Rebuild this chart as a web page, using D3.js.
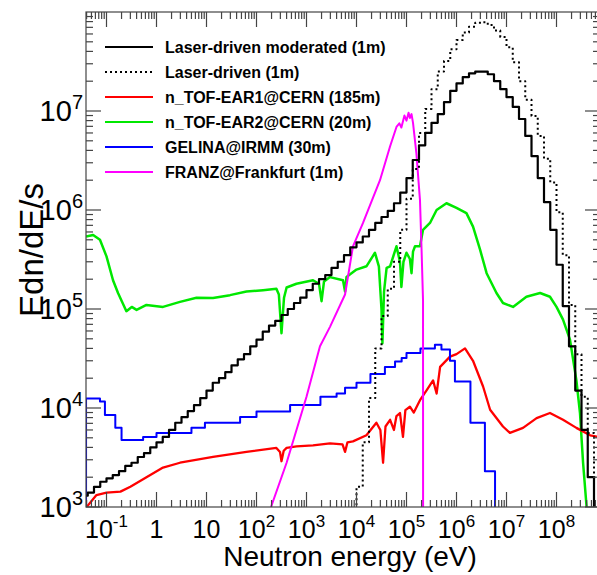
<!DOCTYPE html>
<html>
<head>
<meta charset="utf-8">
<script src="https://cdn.jsdelivr.net/npm/d3@7"></script>
<style>
  body { margin: 0; background: #fff; }
  svg { display: block; font-family: "Liberation Sans", Arial, Helvetica, sans-serif; }
</style>
</head>
<body>
<div id="chart"></div>
<script>
// Legend entries
const seriesNames = [
    "Laser-driven moderated (1m)",
    "Laser-driven (1m)",
    "n_TOF-EAR1@CERN (185m)",
    "n_TOF-EAR2@CERN (20m)",
    "GELINA@IRMM (30m)",
    "FRANZ@Frankfurt (1m)"
];

// Tick decades
const xTickExps = [-1, 0, 1, 2, 3, 4, 5, 6, 7, 8];
const yTickExps = [3, 4, 5, 6, 7];

// Laser-driven histograms: 8 bins per decade, first bin low edge as 10^exp (eV)
const binWidthDecades = 0.125;
const moderatedFirstExp = -1.5;
const moderatedValues = [
    1.3e3, 1.4e3, 1.6e3, 1.8e3, 1.95e3, 2.1e3, 2.3e3, 2.6e3, 2.8e3, 3.2e3,
    3.5e3, 4.0e3, 4.5e3, 5.1e3, 6.0e3, 7.1e3, 8.1e3, 9.3e3, 1.07e4, 1.26e4,
    1.5e4, 1.8e4, 2.0e4, 2.3e4, 2.7e4, 3.1e4, 3.5e4, 4.2e4, 4.9e4, 5.9e4,
    6.8e4, 7.6e4, 8.7e4, 1.0e5, 1.15e5, 1.3e5, 1.55e5, 1.8e5, 2.0e5, 2.2e5,
    2.6e5, 3.0e5, 3.5e5, 4.2e5, 4.7e5, 5.4e5, 6.3e5, 7.4e5, 8.5e5, 9.8e5,
    1.17e6, 1.5e6, 2.1e6, 3.2e6, 4.5e6, 6.0e6, 7.6e6, 9.3e6, 1.23e7, 1.6e7,
    1.9e7, 2.2e7, 2.4e7, 2.5e7, 2.5e7, 2.35e7, 2.0e7, 1.66e7, 1.38e7, 1.1e7,
    8.3e6, 5.6e6, 3.5e6, 2.1e6, 1.2e6, 6.3e5, 2.8e5, 1.07e5, 4.2e4, 1.5e4,
    6.0e3, 2.0e3, 3.2e2
];
const unmoderatedFirstExp = 3.875;
const unmoderatedValues = [
    3.2e2, 1.6e3, 4.5e3, 1.26e4, 4.0e4, 8.5e4, 1.6e5, 3.0e5, 6.3e5, 1.3e6,
    2.6e6, 6.0e6, 1.05e7, 1.66e7, 2.5e7, 3.2e7, 4.2e7, 5.2e7, 6.2e7, 7.1e7,
    7.8e7, 7.9e7, 7.4e7, 6.5e7, 5.6e7, 4.4e7, 3.1e7, 2.0e7, 1.3e7, 8.9e6,
    5.6e6, 3.3e6, 1.9e6, 9.5e5, 3.5e5, 1.1e5, 3.5e4, 1.3e4, 5.6e3, 2.0e3,
    7e2
];

// n_TOF-EAR1 (energy eV, flux)
const ear1Energy = [
    0.04, 0.063, 0.1, 0.19, 0.3, 0.63, 1.35, 2.95, 13.5, 63,
    250, 295, 316, 350, 400, 630, 1350, 2950, 5250, 5900,
    6600, 8500, 1.58e4, 2.5e4, 3.0e4, 3.4e4, 3.8e4, 4.7e4, 5.6e4, 6.3e4,
    7.4e4, 8.5e4, 9.5e4, 1.17e5, 1.4e5, 1.86e5, 2.5e5, 3.4e5, 4e5, 4.7e5,
    7.4e5, 1e6, 1.48e6, 2.14e6, 3.4e6, 4.7e6, 8.5e6, 1.17e7, 2.14e7, 4e7,
    7.4e7, 1.35e8, 2.5e8, 4.7e8, 7e8
];
const ear1Flux = [
    1.0e3, 1.32e3, 1.4e3, 1.43e3, 1.6e3, 2.0e3, 2.5e3, 2.8e3, 3.2e3, 3.6e3,
    3.95e3, 3.6e3, 2.9e3, 3.7e3, 3.95e3, 4.1e3, 4.2e3, 4.4e3, 4.3e3, 3.6e3,
    4.5e3, 4.6e3, 5.3e3, 7.1e3, 6.0e3, 2.8e3, 6.5e3, 7.6e3, 6.0e3, 8.3e3,
    8.9e3, 5.1e3, 9.5e3, 1.03e4, 9.0e3, 1.2e4, 1.5e4, 1.9e4, 1.4e4, 2.6e4,
    3.3e4, 3.5e4, 4.0e4, 3.0e4, 1.65e4, 9.6e3, 6.5e3, 5.6e3, 6.3e3, 7.9e3,
    8.9e3, 7.6e3, 6.3e3, 5.3e3, 5.1e3
];

// n_TOF-EAR2 (energy eV, flux)
const ear2Energy = [
    0.039, 0.054, 0.074, 0.1, 0.135, 0.17, 0.21, 0.25, 0.32, 0.4,
    0.63, 1.35, 2.95, 6.3, 13.5, 29.5, 63, 135, 250, 280,
    316, 355, 400, 630, 1350, 1780, 2000, 2240, 2950, 5370,
    5900, 6300, 1e4, 1.58e4, 2.34e4, 2.8e4, 3.16e4, 3.3e4, 3.55e4, 4e4,
    4.7e4, 6.3e4, 7.4e4, 7.9e4, 8.7e4, 1e5, 1.17e5, 1.26e5, 1.35e5, 1.48e5,
    1.86e5, 2.14e5, 2.95e5, 4e5, 6.3e5, 1e6, 1.58e6, 2.14e6, 2.95e6, 4e6,
    6.3e6, 8.5e6, 1.35e7, 2.5e7, 4.7e7, 7.4e7, 1e8, 1.35e8, 1.86e8, 2.5e8,
    2.95e8, 3.4e8, 4e8, 4.2e8
];
const ear2Flux = [
    5.4e5, 5.6e5, 5.0e5, 3.4e5, 1.95e5, 1.45e5, 1.15e5, 9.5e4, 1.05e5, 9.8e4,
    1.1e5, 1.05e5, 1.18e5, 1.3e5, 1.29e5, 1.38e5, 1.5e5, 1.55e5, 1.6e5, 1.4e5,
    5.7e4, 1.3e5, 1.65e5, 1.8e5, 1.95e5, 1.8e5, 1.2e5, 1.9e5, 2.1e5, 1.95e5,
    1.5e5, 2.1e5, 2.5e5, 2.7e5, 3.7e5, 2.7e5, 1.0e5, 4.5e4, 1.5e5, 2.6e5,
    2.7e5, 4.3e5, 3.0e5, 1.67e5, 3.0e5, 3.7e5, 3.2e5, 2.3e5, 3.8e5, 4.3e5,
    4.3e5, 6.3e5, 7.4e5, 1.0e6, 1.17e6, 1.05e6, 9.3e5, 6.8e5, 4.0e5, 2.3e5,
    1.45e5, 1.15e5, 1.05e5, 1.33e5, 1.45e5, 1.33e5, 1.05e5, 7.8e4, 4.9e4, 1.9e4,
    8.9e3, 2.8e3, 1.0e3, 5e2
];

// GELINA histogram: bin edges (eV) and bin contents
const gelinaEdges = [
    0.039, 0.074, 0.093, 0.15, 0.2, 0.54, 1, 5, 9.3, 47,
    100, 470, 1900, 4000, 5900, 1e4, 1.9e4, 3.7e4, 5.9e4, 8e4,
    1e5, 1.9e5, 3.7e5, 5e5, 7.4e5, 9.3e5, 1.9e6, 3.7e6, 5.9e6, 8e6
];
const gelinaValues = [
    1.25e4, 1.16e4, 8.5e3, 6.3e3, 4.75e3, 5.1e3, 5.6e3, 6.3e3, 7.1e3, 8.1e3,
    9.2e3, 1.07e4, 1.3e4, 1.4e4, 1.6e4, 1.8e4, 2.2e4, 2.6e4, 2.95e4, 3.2e4,
    3.6e4, 4.0e4, 4.35e4, 3.9e4, 3.0e4, 1.85e4, 7.1e3, 2.3e3, 1e2
];

// FRANZ (energy eV, flux)
const franzEnergy = [
    195, 400, 1000, 1860, 2950, 5900, 8500, 1.35e4, 2.95e4, 4.7e4,
    6.3e4, 7.2e4, 7.9e4, 9.1e4, 1e5, 1.1e5, 1.17e5, 1.26e5, 1.35e5, 1.58e5,
    1.86e5, 2.0e5, 2.14e5, 2.15e5
];
const franzFlux = [
    1.0e3, 2.8e3, 1.3e4, 4.2e4, 6.6e4, 1.4e5, 4.3e5, 7.4e5, 2.0e6, 4.4e6,
    6.9e6, 7.5e6, 6.8e6, 9.0e6, 8.0e6, 9.6e6, 8.5e6, 9.3e6, 7.6e6, 3.7e6,
    1.26e6, 4.0e5, 1.23e5, 1e2
];

const colors = ["#000000", "#000000", "#ff0000", "#00e800", "#0000ff", "#ff00ff"];
const dashes = [null, "2,3", null, null, null, null];

const W = 597, H = 575;
const plot = { left: 86, right: 600, top: 12, bottom: 507 };

const x = d3.scaleLog()
    .domain([Math.pow(10, -1.41), Math.pow(10, 8.87)])
    .range([plot.left, plot.right]);
const y = d3.scaleLog()
    .domain([1e3, 1e8])
    .range([plot.bottom, plot.top]);

const svg = d3.select("#chart").append("svg")
    .attr("width", W)
    .attr("height", H);

svg.append("clipPath").attr("id", "clip")
    .append("rect")
    .attr("x", plot.left).attr("y", plot.top)
    .attr("width", plot.right - plot.left)
    .attr("height", plot.bottom - plot.top);

// Build histogram points (step after)
function uniformHist(firstExp, values) {
    const pts = [[Math.pow(10, firstExp), 1]];
    values.forEach((v, i) => pts.push([Math.pow(10, firstExp + i * binWidthDecades), v]));
    const endE = Math.pow(10, firstExp + values.length * binWidthDecades);
    pts.push([endE, values[values.length - 1]]);
    return pts;
}
function edgeHist(edges, values) {
    const pts = [[edges[0], 1]];
    values.forEach((v, i) => pts.push([edges[i], v]));
    pts.push([edges[edges.length - 1], values[values.length - 1]]);
    return pts;
}

const stepLine = d3.line()
    .x(d => x(d[0]))
    .y(d => y(Math.max(d[1], 1)))
    .curve(d3.curveStepAfter);
const plainLine = d3.line()
    .x(d => x(d[0]))
    .y(d => y(Math.max(d[1], 1)));

const curves = svg.append("g").attr("clip-path", "url(#clip)")
    .attr("fill", "none")
    .attr("stroke-linejoin", "round");

curves.append("path")
    .attr("d", plainLine(ear2Energy.map((e, i) => [e, ear2Flux[i]])))
    .attr("stroke", colors[3]).attr("stroke-width", 2.5);
curves.append("path")
    .attr("d", plainLine(ear1Energy.map((e, i) => [e, ear1Flux[i]])))
    .attr("stroke", colors[2]).attr("stroke-width", 2.3);
curves.append("path")
    .attr("d", stepLine(edgeHist(gelinaEdges, gelinaValues)))
    .attr("stroke", colors[4]).attr("stroke-width", 2);
curves.append("path")
    .attr("d", plainLine(franzEnergy.map((e, i) => [e, franzFlux[i]])))
    .attr("stroke", colors[5]).attr("stroke-width", 2);
curves.append("path")
    .attr("d", stepLine(uniformHist(unmoderatedFirstExp, unmoderatedValues)))
    .attr("stroke", colors[1]).attr("stroke-width", 2)
    .attr("stroke-dasharray", dashes[1]);
curves.append("path")
    .attr("d", stepLine(uniformHist(moderatedFirstExp, moderatedValues)))
    .attr("stroke", colors[0]).attr("stroke-width", 2.2);

// Frame and ticks (ROOT style: ticks on all sides)
const axisColor = "#444";
const frame = svg.append("g").attr("stroke", axisColor).attr("stroke-width", 1.2);
frame.append("rect")
    .attr("x", plot.left).attr("y", plot.top)
    .attr("width", plot.right - plot.left)
    .attr("height", plot.bottom - plot.top)
    .attr("fill", "none");

const majorLen = 15, minorLen = 7;
const xTicks = [];
for (let d = -2; d <= 8; d++) {
    for (let k = 1; k <= 9; k++) {
        const v = k * Math.pow(10, d);
        if (v >= x.domain()[0] && v <= x.domain()[1]) xTicks.push({ v, major: k === 1 });
    }
}
const yTicks = [];
for (let d = 3; d <= 7; d++) {
    for (let k = 1; k <= 9; k++) yTicks.push({ v: k * Math.pow(10, d), major: k === 1 });
}

xTicks.forEach(t => {
    const px = x(t.v), len = t.major ? majorLen : minorLen;
    frame.append("line").attr("x1", px).attr("x2", px)
        .attr("y1", plot.bottom).attr("y2", plot.bottom - len);
    frame.append("line").attr("x1", px).attr("x2", px)
        .attr("y1", plot.top).attr("y2", plot.top + len);
});
yTicks.forEach(t => {
    const py = y(t.v), len = t.major ? majorLen : minorLen;
    frame.append("line").attr("y1", py).attr("y2", py)
        .attr("x1", plot.left).attr("x2", plot.left + len);
    frame.append("line").attr("y1", py).attr("y2", py)
        .attr("x1", plot.right).attr("x2", plot.right - len);
});

// Tick labels
xTickExps.forEach(p => {
    const t = svg.append("text")
        .attr("x", x(Math.pow(10, p)))
        .attr("y", 538)
        .attr("text-anchor", "middle")
        .attr("font-size", 25);
    if (p === 0) t.text("1");
    else if (p === 1) t.text("10");
    else {
        t.append("tspan").text("10");
        t.append("tspan").attr("font-size", 17).attr("dy", -11).text(p);
    }
});
yTickExps.forEach(p => {
    const t = svg.append("text")
        .attr("x", 83)
        .attr("y", y(Math.pow(10, p)) + 10)
        .attr("text-anchor", "end")
        .attr("font-size", 29);
    t.append("tspan").text("10");
    t.append("tspan").attr("font-size", 20).attr("dy", -12).text(p);
});

// Axis titles
svg.append("text")
    .attr("x", 350).attr("y", 566)
    .attr("text-anchor", "middle")
    .attr("font-size", 28)
    .text("Neutron energy (eV)");
svg.append("text")
    .attr("transform", "translate(43,250) rotate(-90)")
    .attr("text-anchor", "middle")
    .attr("font-size", 33)
    .text("Edn/dE/s");

// Legend
const legend = svg.append("g");
seriesNames.forEach((name, i) => {
    const ly = 47 + i * 25;
    legend.append("line")
        .attr("x1", 105).attr("x2", 153)
        .attr("y1", ly).attr("y2", ly)
        .attr("stroke", colors[i])
        .attr("stroke-width", 2.2)
        .attr("stroke-dasharray", dashes[i]);
    legend.append("text")
        .attr("x", 165).attr("y", ly + 5.5)
        .attr("font-size", 16)
        .attr("font-weight", "bold")
        .text(name);
});
</script>
</body>
</html>
